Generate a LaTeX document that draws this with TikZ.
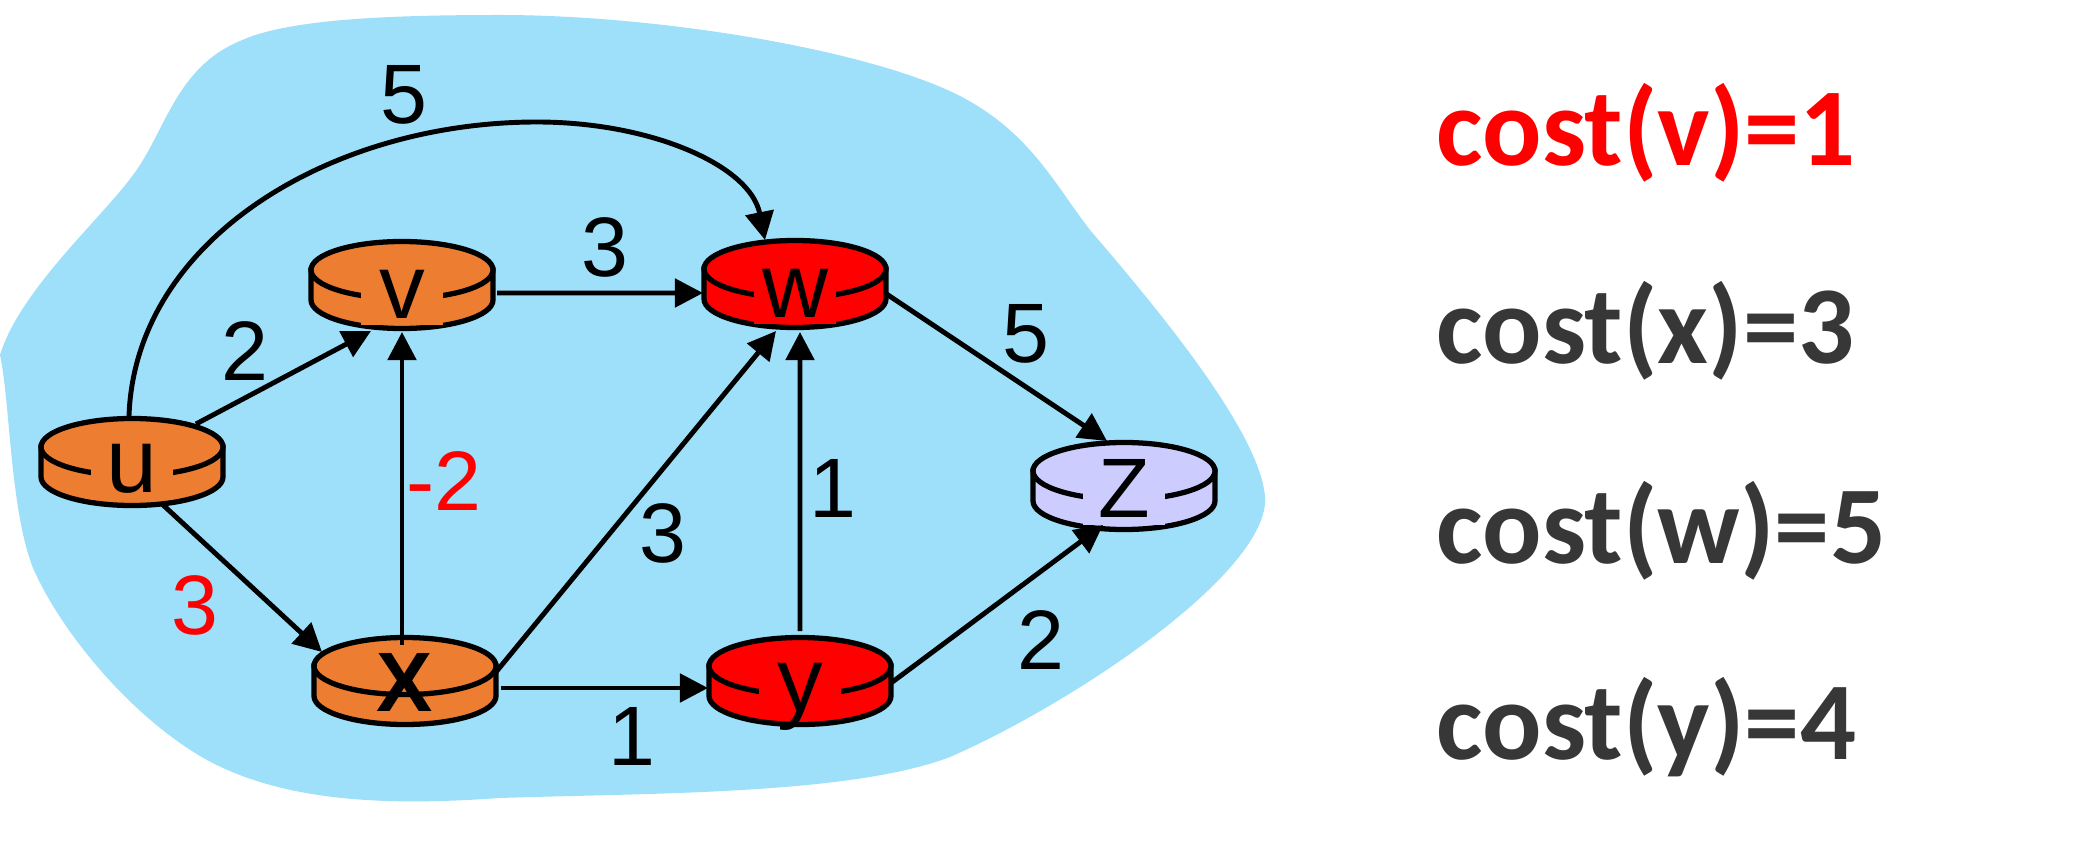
\documentclass[tikz,border=0pt]{standalone}
\usepackage{fontspec}
\setmainfont{Liberation Sans}
\newfontfamily\costfont{Carlito}
\usepackage{xcolor}
\usetikzlibrary{arrows.meta}
\definecolor{cloudblue}{HTML}{9EE0FA}
\definecolor{nodeorange}{HTML}{ED7D31}
\definecolor{nodered}{HTML}{FF0000}
\definecolor{nodelilac}{HTML}{CCCCFF}
\definecolor{costgray}{HTML}{373737}
\tikzset{
  routerbox/.style={rectangle, inner sep=0pt, minimum width=18.2mm, minimum height=8.7mm},
  routerline/.style={draw=black, line width=1.5pt},
  routername/.style={anchor=base, font=\fontsize{26}{26}\selectfont, inner sep=0pt, minimum width=23.3pt, text height=14pt, text depth=2pt},
  arrow/.style={-{Triangle[length=8pt,width=8pt]}, line width=1.4pt, draw=black},
  weight/.style={font=\fontsize{24}{24}\selectfont, inner sep=0pt},
  costline/.style={anchor=base west, inner sep=0pt, font=\costfont\bfseries\fontsize{31.5}{31.5}\selectfont}
}
\newcommand{\routernode}[3]{
  \node[routerbox] (#1) at (#2) {};
  \draw[routerline, fill=#3] ([shift={(-0.91,0.15)}]#1.center) -- ++(0,-0.3) arc[start angle=180, end angle=360, x radius=0.91, y radius=0.285] -- ++(0,0.3) -- cycle;
  \draw[routerline, fill=#3] ([shift={(0,0.15)}]#1.center) ellipse [x radius=0.91, y radius=0.285];
}
\begin{document}
\begin{tikzpicture}
  \useasboundingbox (0,0) rectangle (20.79,-8.55);
  \fill[cloudblue] (0,-3.55) .. controls (0.2,-2.9) and (1,-2.2) .. (1.33,-1.75)
    .. controls (1.65,-1.33) and (1.75,-0.68) .. (2.4,-0.41)
    .. controls (2.85,-0.2) and (3.8,-0.15) .. (5,-0.15)
    .. controls (6.6,-0.15) and (8.7,-0.5) .. (9.6,-0.96)
    .. controls (10.3,-1.32) and (10.55,-1.85) .. (10.9,-2.3)
    .. controls (11.5,-3) and (12.6,-4.3) .. (12.65,-4.97)
    .. controls (12.7,-5.7) and (10.8,-7) .. (9.5,-7.57)
    .. controls (8.5,-7.95) and (6.5,-7.93) .. (5,-7.98)
    .. controls (4,-8.05) and (2.9,-8.05) .. (2.07,-7.6)
    .. controls (1.3,-7.17) and (0.6,-6.3) .. (0.33,-5.68)
    .. controls (0.1,-5.1) and (0.1,-4) .. (0,-3.55) -- cycle;

  \routernode{u}{1.32,-4.62}{nodeorange}
  \routernode{v}{4.02,-2.85}{nodeorange}
  \routernode{w}{7.95,-2.84}{nodered}
  \routernode{x}{4.05,-6.81}{nodeorange}
  \routernode{y}{8,-6.81}{nodered}
  \routernode{z}{11.24,-4.86}{nodelilac}
  \node[routername, fill=nodeorange] (ulabel) at ([yshift=-8.8pt]u.center) {u};
  \node[routername, fill=nodeorange] (vlabel) at ([yshift=-9.4pt]v.center) {v};
  \node[routername, fill=nodered] (wlabel) at ([yshift=-9.4pt]w.center) {w};
  \node[routername, font=\bfseries\fontsize{24}{24}\selectfont] (xlabel) at ([yshift=-8.8pt]x.center) {X};
  \node[routername, fill=nodered] (ylabel) at ([yshift=-8.8pt]y.center) {y};
  \node[routername, fill=nodelilac, font=\fontsize{24}{24}\selectfont] (zlabel) at ([yshift=-9.1pt]z.center) {Z};

  \draw[arrow] ([shift={(-0.03,0.46)}]u.center) .. controls (1.35,-2.4) and (3.3,-1.22) .. (5.37,-1.22) .. controls (6.5,-1.22) and (7.5,-1.65) .. ([shift={(-0.3,0.44)}]w.center);
  \draw[arrow] ([shift={(0.64,0.38)}]u.center) -- ([shift={(-0.31,-0.46)}]v.center);
  \draw[arrow] ([shift={(0.95,-0.08)}]v.center) -- ([shift={(-0.92,-0.09)}]w.center);
  \draw[arrow] ([shift={(0.3,-0.42)}]u.center) -- ([shift={(-0.83,0.29)}]x.center);
  \draw[arrow] ([shift={(-0.03,0.36)}]x.center) -- ([shift={(0,-0.47)}]v.center);
  \draw[arrow] ([shift={(0.91,0.09)}]x.center) -- ([shift={(-0.19,-0.47)}]w.center);
  \draw[arrow] ([shift={(0.96,-0.07)}]x.center) -- ([shift={(-0.92,-0.07)}]y.center);
  \draw[arrow] ([shift={(0,0.5)}]y.center) -- ([shift={(0.05,-0.48)}]w.center);
  \draw[arrow] ([shift={(0.9,-0.09)}]w.center) -- ([shift={(-0.17,0.45)}]z.center);
  \draw[arrow] ([shift={(0.91,-0.02)}]y.center) -- ([shift={(-0.21,-0.39)}]z.center);

  \node[weight] (costuw) at (4.04,-0.95) {5};
  \node[weight] (costvw) at (6.05,-2.47) {3};
  \node[weight] (costuv) at (2.45,-3.51) {2};
  \node[weight] (costwz) at (10.26,-3.34) {5};
  \node[weight, text=nodered] (costxv) at (4.44,-4.81) {-2};
  \node[weight, text=nodered] (costux) at (1.95,-6.05) {3};
  \node[weight] (costxw) at (6.63,-5.33) {3};
  \node[weight] (costyw) at (8.33,-4.88) {1};
  \node[weight] (costyz) at (10.41,-6.4) {2};
  \node[weight] (costxy) at (6.32,-7.36) {1};

  \node[costline, text=nodered] (costv) at (14.36,-1.66) {cost(v)=1};
  \node[costline, text=costgray] (costx) at (14.36,-3.64) {cost(x)=3};
  \node[costline, text=costgray] (costw) at (14.36,-5.63) {cost(w)=5};
  \node[costline, text=costgray] (costy) at (14.36,-7.59) {cost(y)=4};
\end{tikzpicture}
\end{document}
